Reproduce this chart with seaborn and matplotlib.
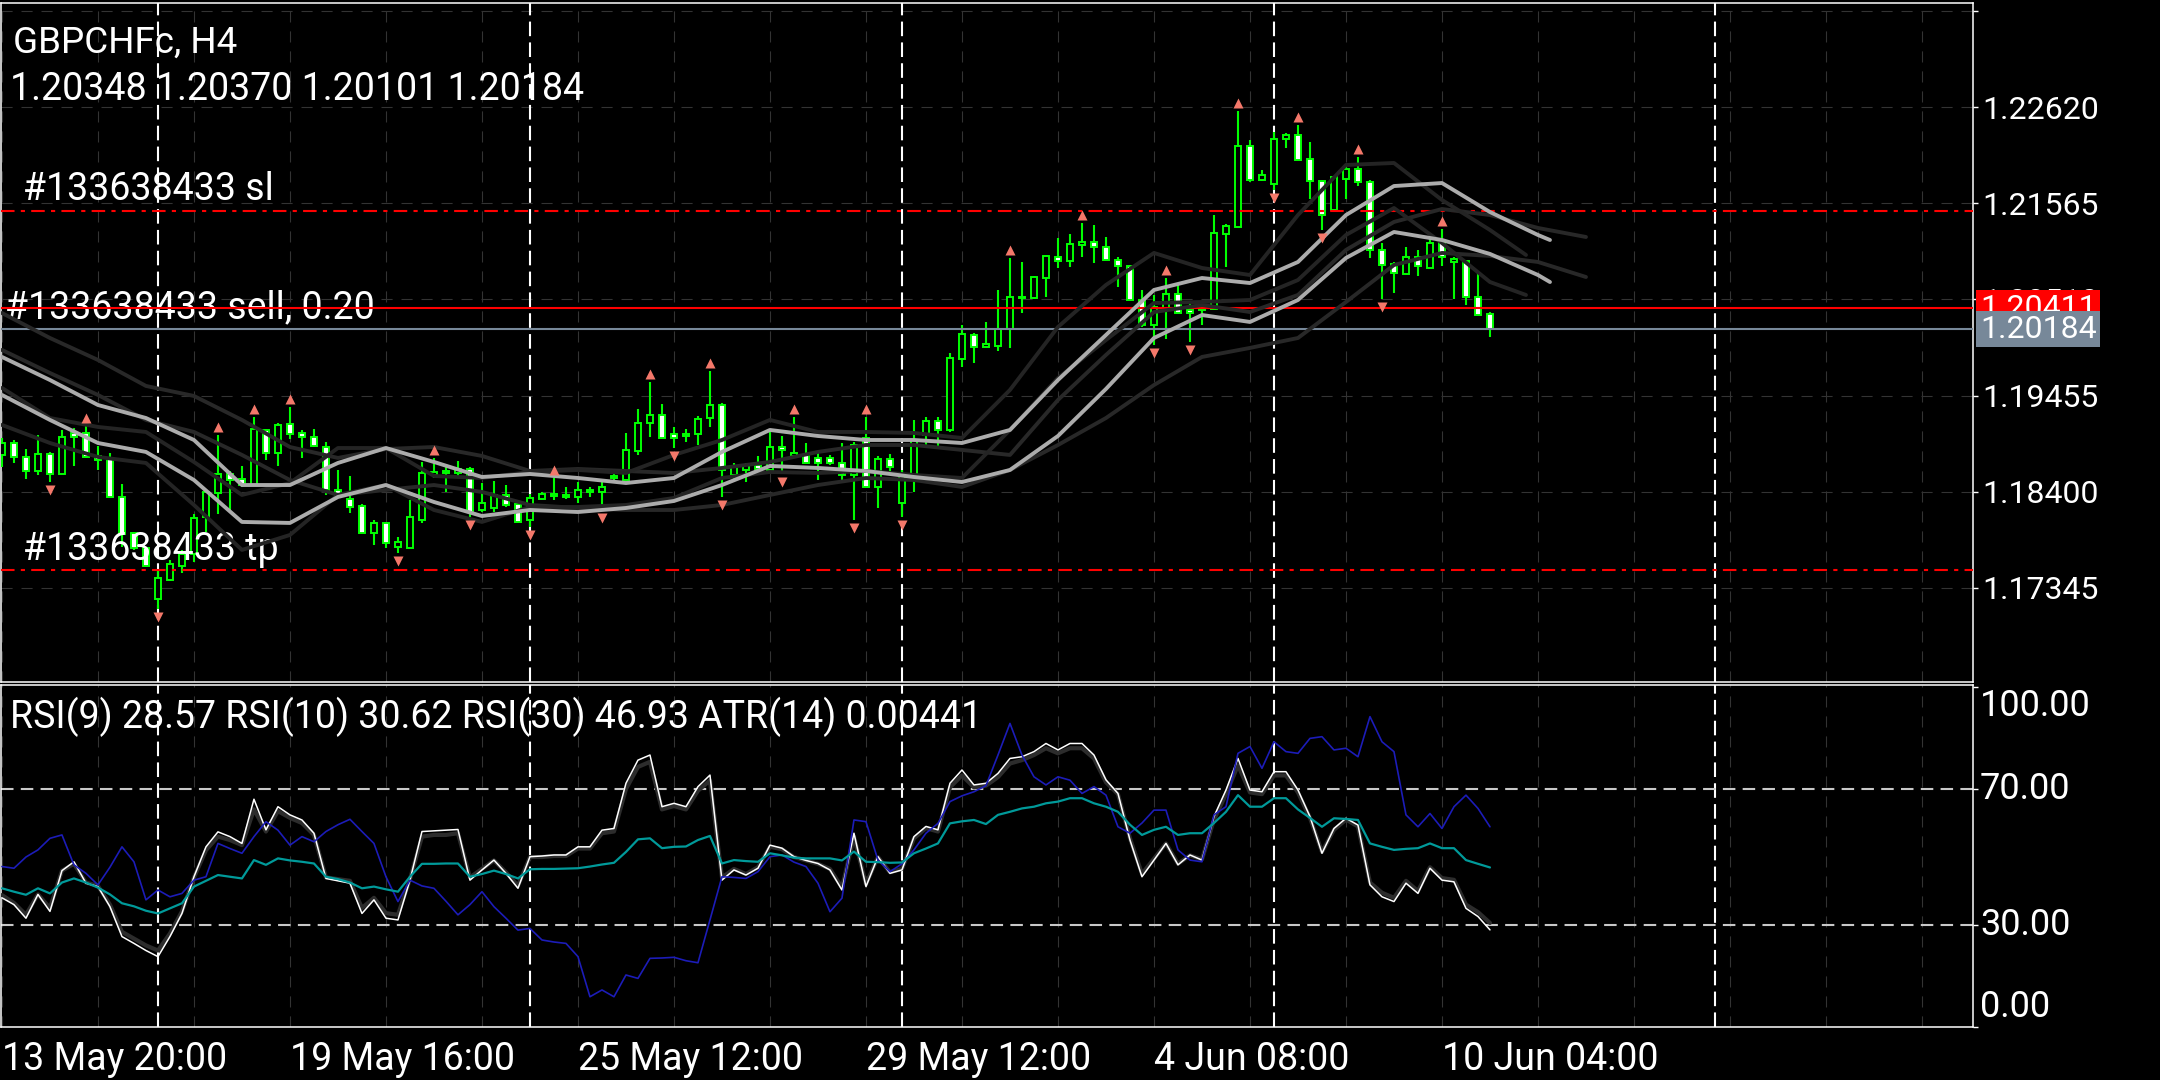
import numpy as np
import pandas as pd
import matplotlib
matplotlib.use("Agg")
import matplotlib.pyplot as plt
import matplotlib.transforms as mtrans
import seaborn as sns

# ---------------- data (GBPCHFc, H4) ----------------
open_ = [1.18803, 1.18934, 1.18781, 1.18627, 1.18814, 1.18594, 1.19044, 1.19044, 1.18792, 1.18759,
         1.18342, 1.17947, 1.17782, 1.17223, 1.17431, 1.17585, 1.17717, 1.18122, 1.18386, 1.18594,
         1.18539, 1.18473, 1.19077, 1.18825, 1.19143, 1.19044, 1.19000, 1.18890, 1.18419, 1.18320,
         1.18243, 1.17947, 1.18057, 1.17793, 1.17782, 1.18090, 1.18583, 1.18605, 1.18605, 1.18649,
         1.18199, 1.18221, 1.18364, 1.18265, 1.18090, 1.18320, 1.18353, 1.18342, 1.18342, 1.18397,
         1.18397, 1.18550, 1.18528, 1.18847, 1.19154, 1.19241, 1.19033, 1.19011, 1.19033, 1.19208,
         1.19351, 1.18583, 1.18638, 1.18693, 1.18638, 1.18890, 1.18792, 1.18803, 1.18770, 1.18770,
         1.18715, 1.18583, 1.18989, 1.18452, 1.18759, 1.18276, 1.18572, 1.19022, 1.19176, 1.19077,
         1.19856, 1.20119, 1.19988, 1.19999, 1.20185, 1.20525, 1.20525, 1.20744, 1.20975, 1.20931,
         1.21106, 1.21139, 1.21084, 1.20942, 1.20876, 1.20503, 1.20229, 1.20415, 1.20569, 1.20393,
         1.20393, 1.20404, 1.21227, 1.21304, 1.22192, 1.21819, 1.21775, 1.22269, 1.22313, 1.22050,
         1.21808, 1.21490, 1.21830, 1.21940, 1.21797, 1.21052, 1.20898, 1.20788, 1.20975, 1.20854,
         1.21128, 1.20920, 1.20931, 1.20536, 1.20348]
high_ = [1.18989, 1.18967, 1.18868, 1.19022, 1.18836, 1.19077, 1.19099, 1.19121, 1.18901, 1.18825,
         1.18484, 1.17958, 1.17782, 1.17541, 1.17651, 1.17761, 1.18155, 1.18419, 1.19022, 1.18627,
         1.18682, 1.19219, 1.19088, 1.19154, 1.19329, 1.19077, 1.19088, 1.18945, 1.18638, 1.18572,
         1.18265, 1.18090, 1.18068, 1.17903, 1.18309, 1.18726, 1.18770, 1.18671, 1.18737, 1.18671,
         1.18495, 1.18517, 1.18473, 1.18276, 1.18375, 1.18397, 1.18550, 1.18452, 1.18506, 1.18452,
         1.18528, 1.18616, 1.19044, 1.19307, 1.19603, 1.19362, 1.19110, 1.19088, 1.19230, 1.19724,
         1.19373, 1.18715, 1.18715, 1.18792, 1.19088, 1.19011, 1.19219, 1.18934, 1.18825, 1.18803,
         1.18934, 1.18945, 1.19219, 1.18792, 1.18814, 1.18638, 1.19187, 1.19219, 1.19219, 1.19922,
         1.20229, 1.20141, 1.20262, 1.20613, 1.20964, 1.20920, 1.20766, 1.20997, 1.21183, 1.21227,
         1.21348, 1.21326, 1.21194, 1.20975, 1.20887, 1.20613, 1.20558, 1.20744, 1.20689, 1.20492,
         1.20448, 1.21435, 1.21337, 1.22577, 1.22258, 1.21929, 1.22346, 1.22335, 1.22423, 1.22236,
         1.21819, 1.21863, 1.21984, 1.22072, 1.21819, 1.21128, 1.20920, 1.21084, 1.21052, 1.21183,
         1.21282, 1.20975, 1.20942, 1.20799, 1.20370]
low_ = [1.18671, 1.18715, 1.18539, 1.18583, 1.18506, 1.18594, 1.18682, 1.18770, 1.18638, 1.18342,
        1.17793, 1.17761, 1.17574, 1.17113, 1.17420, 1.17508, 1.17629, 1.17958, 1.18155, 1.18177,
        1.18452, 1.18473, 1.18748, 1.18682, 1.18978, 1.18770, 1.18890, 1.18364, 1.18342, 1.18166,
        1.17947, 1.17815, 1.17782, 1.17728, 1.17782, 1.18057, 1.18550, 1.18397, 1.18561, 1.18122,
        1.18177, 1.18177, 1.18232, 1.18068, 1.18013, 1.18309, 1.18309, 1.18320, 1.18276, 1.18342,
        1.18199, 1.18506, 1.18528, 1.18803, 1.19000, 1.18989, 1.18879, 1.18945, 1.18912, 1.19110,
        1.18342, 1.18506, 1.18506, 1.18638, 1.18616, 1.18594, 1.18781, 1.18715, 1.18528, 1.18693,
        1.18495, 1.18090, 1.18452, 1.18221, 1.18605, 1.18122, 1.18397, 1.18890, 1.18868, 1.19055,
        1.19768, 1.19812, 1.19988, 1.19944, 1.19977, 1.20360, 1.20514, 1.20536, 1.20854, 1.20865,
        1.20975, 1.20909, 1.20942, 1.20646, 1.20503, 1.20207, 1.20010, 1.20075, 1.20360, 1.20042,
        1.20229, 1.20404, 1.20865, 1.21304, 1.21797, 1.21808, 1.21710, 1.22170, 1.22039, 1.21611,
        1.21271, 1.21490, 1.21611, 1.21754, 1.20964, 1.20514, 1.20580, 1.20788, 1.20766, 1.20854,
        1.20876, 1.20514, 1.20448, 1.20338, 1.20101]
close_ = [1.18934, 1.18781, 1.18627, 1.18814, 1.18594, 1.19000, 1.19000, 1.18781, 1.18748, 1.18342,
          1.17936, 1.17782, 1.17585, 1.17453, 1.17607, 1.17717, 1.18111, 1.18397, 1.18594, 1.18528,
          1.18473, 1.19088, 1.18825, 1.19132, 1.19033, 1.19000, 1.18901, 1.18419, 1.18364, 1.18232,
          1.17947, 1.18057, 1.17837, 1.17848, 1.18122, 1.18605, 1.18616, 1.18627, 1.18649, 1.18177,
          1.18276, 1.18364, 1.18254, 1.18068, 1.18331, 1.18375, 1.18375, 1.18364, 1.18419, 1.18419,
          1.18452, 1.18572, 1.18858, 1.19154, 1.19241, 1.18989, 1.18989, 1.19033, 1.19197, 1.19351,
          1.18638, 1.18682, 1.18693, 1.18649, 1.18890, 1.18858, 1.18825, 1.18715, 1.18715, 1.18715,
          1.18583, 1.18912, 1.18452, 1.18759, 1.18671, 1.18572, 1.18967, 1.19176, 1.19077, 1.19867,
          1.20130, 1.19988, 1.20020, 1.20185, 1.20536, 1.20536, 1.20755, 1.20986, 1.20931, 1.21117,
          1.21139, 1.21084, 1.20942, 1.20876, 1.20503, 1.20229, 1.20426, 1.20569, 1.20360, 1.20360,
          1.20437, 1.21238, 1.21315, 1.22192, 1.21819, 1.21874, 1.22269, 1.22313, 1.22039, 1.21808,
          1.21435, 1.21852, 1.21940, 1.21797, 1.21052, 1.20887, 1.20799, 1.20975, 1.20876, 1.21128,
          1.20975, 1.20953, 1.20536, 1.20338, 1.20184]

fractal_up = [7, 18, 21, 24, 36, 46, 54, 59, 66, 72, 84, 90, 97, 103, 108, 113, 120]
fractal_down = [4, 13, 33, 39, 44, 50, 56, 60, 65, 71, 75, 96, 99, 106, 110, 115]

# shifted bands (bar index, price)
light_idx = [0, 4, 8, 12, 16, 20, 24, 28, 32, 36, 40, 44, 48, 52, 56, 60, 64, 68, 72, 76, 80,
             84, 88, 92, 96, 100, 104, 108, 112, 116, 120, 124, 128, 129]
light_up = [1.19878, 1.19625, 1.19351, 1.19208, 1.18967, 1.18473, 1.18473, 1.18715, 1.18879, 1.18726,
            1.18561, 1.18594, 1.18550, 1.18495, 1.18550, 1.18836, 1.19077, 1.19011, 1.18967, 1.18967,
            1.18934, 1.19077, 1.19625, 1.20119, 1.20613, 1.20744, 1.20689, 1.20920, 1.21435, 1.21753,
            1.21786, 1.21468, 1.21216, 1.21161]
light_dn = [1.19461, 1.19187, 1.18934, 1.18836, 1.18528, 1.18068, 1.18057, 1.18342, 1.18473, 1.18287,
            1.18133, 1.18199, 1.18177, 1.18221, 1.18298, 1.18473, 1.18682, 1.18660, 1.18627, 1.18561,
            1.18506, 1.18638, 1.19011, 1.19527, 1.20086, 1.20338, 1.20262, 1.20503, 1.20964, 1.21249,
            1.21161, 1.21008, 1.20777, 1.20700]
fast_idx = [0, 4, 8, 12, 16, 20, 24, 28, 32, 36, 40, 44, 48, 52, 56, 60, 64, 68, 72, 76, 80,
            84, 88, 92, 96, 100, 104, 108, 112, 116, 120, 124, 127]
fast_up = [1.19538, 1.19208, 1.19110, 1.19055, 1.18726, 1.18364, 1.18495, 1.18879, 1.18879, 1.18572,
           1.18550, 1.18616, 1.18638, 1.18605, 1.18803, 1.18967, 1.19187, 1.19055, 1.19055, 1.19044,
           1.18989, 1.19516, 1.20207, 1.20668, 1.21019, 1.20854, 1.20777, 1.21435, 1.21984, 1.22006,
           1.21600, 1.21271, 1.20997]
fast_dn = [1.19132, 1.18934, 1.18781, 1.18715, 1.18254, 1.17761, 1.17925, 1.18364, 1.18473, 1.18199,
           1.18068, 1.18232, 1.18232, 1.18254, 1.18331, 1.18550, 1.18616, 1.18605, 1.18627, 1.18583,
           1.18550, 1.19077, 1.19647, 1.20064, 1.20470, 1.20481, 1.20503, 1.20722, 1.21216, 1.21512,
           1.21128, 1.20700, 1.20558]
slow_idx = [0, 4, 8, 12, 16, 20, 24, 28, 32, 36, 40, 44, 48, 52, 56, 60, 64, 68, 72, 76, 80,
            84, 88, 92, 96, 100, 104, 108, 112, 116, 120, 124, 128, 132]
slow_up = [1.20360, 1.20086, 1.19845, 1.19560, 1.19450, 1.19187, 1.18890, 1.18770, 1.18868, 1.18890,
           1.18792, 1.18627, 1.18649, 1.18627, 1.18605, 1.18660, 1.18726, 1.18836, 1.18912, 1.18912,
           1.18858, 1.18803, 1.19406, 1.19900, 1.20371, 1.20448, 1.20371, 1.20558, 1.21052, 1.21359,
           1.21501, 1.21435, 1.21293, 1.21194]
slow_dn = [1.19955, 1.19702, 1.19461, 1.19187, 1.19055, 1.18803, 1.18528, 1.18364, 1.18419, 1.18473,
           1.18397, 1.18254, 1.18221, 1.18199, 1.18199, 1.18254, 1.18364, 1.18473, 1.18550, 1.18528,
           1.18452, 1.18638, 1.18912, 1.19208, 1.19570, 1.19878, 1.19977, 1.20086, 1.20481, 1.20887,
           1.21019, 1.20986, 1.20920, 1.20755]

order_id = "#133638433"
sell_price = 1.20411
sl_price = 1.21481
tp_price = 1.17541
bid_price = 1.20184

rsi9 = [38, 36, 32, 39, 34, 46, 48.6, 42.3, 41.3, 35.4, 26.6, 24.6, 22.5, 20.7, 26.6, 33.4, 44.2, 53, 57.4, 56,
        54, 67, 58, 64.8, 62.4, 60.9, 57, 43.7, 43, 42.3, 33.4, 37.4, 32, 31.5, 43.2, 57.5, 57.7, 57.9, 58.1, 43.2,
        46.2, 49.1, 45.2, 40.8, 50.1, 50.3, 50.6, 50.6, 53, 53, 57.9, 58.4, 71.7, 78.5, 80, 64.8, 65.8, 64.8, 70.7, 74.1,
        43.2, 46.2, 44.7, 46.7, 53.5, 52.6, 50.1, 49, 48.1, 46.2, 40.3, 57, 41.3, 50.1, 45.2, 46.2, 56, 59, 58, 71.7,
        75.6, 71.2, 71.7, 74.6, 79, 79.5, 81, 83.4, 81.5, 83.4, 83.4, 80, 72.7, 68.7, 55, 44.2, 49.1, 54, 47.7, 50.6,
        49.1, 61.9, 69.7, 79, 69.7, 69.2, 75.1, 75.1, 69.7, 61.9, 51.1, 58.4, 61.4, 59.4, 41.8, 38.3, 36.9, 42.3, 39.3, 46.7,
        43.2, 42.7, 34.9, 32.5, 28.57]
rsi10 = [38.8, 36.5, 33, 39, 35, 46, 48, 42.5, 41.5, 36, 28, 26, 24, 22.5, 27.5, 34, 44, 52, 56, 55,
         53.5, 64, 57.5, 63.5, 61.5, 60, 56.5, 44, 43.5, 43, 35, 38, 33.5, 33, 43.5, 56, 56.5, 56.5, 57, 44,
         46.5, 49, 45.5, 41.5, 50, 50, 50.3, 50.3, 52.5, 52.5, 57, 57.5, 70, 76.5, 78, 64, 65, 64, 69.5, 72.5,
         44, 46.5, 45, 47, 53, 52.3, 50, 49, 48, 46.5, 41, 56, 42, 50, 45.5, 46.5, 55.5, 58.5, 57.5, 70.5,
         74, 70.5, 71, 73.5, 77.5, 78.5, 80, 82, 80.5, 82, 82, 79, 72, 68.5, 55.5, 45, 49.5, 54, 48, 50.5,
         49.3, 61, 68.5, 77, 69, 68.5, 74, 74, 69, 61.5, 51.5, 58, 61, 59, 42.5, 39.5, 38, 43, 40, 47,
         43.8, 43.3, 36, 33.8, 30.62]
rsi30 = [40.8, 39.8, 38.9, 40.8, 39.3, 42.5, 43.7, 42.5, 41, 39, 36.4, 35.5, 34.2, 33.4, 34.9, 36.4, 41.3, 43, 44.7, 44.2,
         43.7, 49.1, 47.7, 49.6, 49, 48.6, 48.1, 44.2, 43.5, 42.5, 40.8, 41.3, 40.5, 39.8, 44.2, 48, 48, 48.1, 48.1, 44.2,
         45, 46, 45, 43.7, 46.4, 46.5, 46.5, 46.6, 46.7, 47.2, 47.8, 48.3, 51.5, 55.2, 55.5, 52.6, 53, 53.1, 55, 56.2,
         48.1, 49.1, 48.8, 48.6, 51.1, 50.5, 49.8, 49.6, 49.6, 49.6, 49, 51.6, 48.6, 48.5, 48.3, 48.4, 51.1, 52.5, 54, 59.9,
         60.5, 60.9, 59.7, 62.4, 63.3, 64.3, 64.8, 65.8, 66.3, 67.3, 67.3, 65.8, 64.8, 63.3, 59.5, 56.5, 58, 58.9, 56.5, 57,
         57, 60, 63.3, 68.2, 64.8, 64.8, 67.3, 67.3, 64, 61.5, 58.9, 61.4, 61.2, 60.9, 54, 53, 52.1, 52.4, 52.6, 54,
         52.6, 52.6, 49.1, 48, 46.93]
atr_line = [47.2, 46.7, 50, 52.1, 55.5, 56.5, 47.7, 45.2, 41.8, 47, 53, 48.6, 37.4, 40.3, 38.3, 39.3, 43.2, 44.2, 54, 52.5,
            51.1, 56, 60.4, 57.9, 53.5, 56, 54.5, 57.5, 59.5, 61.1, 57.5, 54, 44.2, 36.9, 43.2, 41.5, 40.8, 37, 33, 36,
            39.8, 35.4, 32, 28.5, 29, 25.6, 25, 24.6, 20.7, 8.9, 10.9, 8.9, 15.3, 14.3, 20.2, 20.3, 20.5, 19.5, 18.9, 31.5,
            44.2, 44, 43.7, 45.7, 50.1, 50.6, 48.5, 47.2, 42.3, 33.9, 37.9, 60.9, 60.4, 49.1, 45.7, 48, 52.1, 57, 59.9, 66.3,
            68, 69.2, 71, 80, 89.3, 80, 73.6, 71.2, 73.6, 72.6, 68.7, 70.7, 68.2, 58.9, 57, 60, 63.8, 63.8, 52.1, 49.1,
            48.6, 62.4, 64.8, 80.5, 82.5, 76.1, 83.9, 81, 80.5, 84.9, 85.4, 81.5, 82, 79.5, 91.3, 83.9, 81, 62.4, 58.9, 62.8,
            58.4, 64.8, 68.2, 64.3, 58.9]
rsi_header = "RSI(9) 28.57 RSI(10) 30.62 RSI(30) 46.93 ATR(14) 0.00441"

price_ticks = [1.23675, 1.22620, 1.21565, 1.20510, 1.19455, 1.18400, 1.17345]
rsi_ticks = [100, 70, 30, 0]
week_starts = [13, 44, 75, 106, 142.75]
date_bars = [0, 24, 48, 72, 96, 120]
date_labels = ["13 May 20:00", "19 May 16:00", "25 May 12:00", "29 May 12:00", "4 Jun 08:00", "10 Jun 04:00"]

# ---------------- style ----------------
GREEN = "#00ff00"
sns.set_style("dark", {"axes.facecolor": "black", "figure.facecolor": "black"})
plt.rcParams["font.family"] = ["Roboto", "DejaVu Sans"]

fig = plt.figure(figsize=(21.6, 10.8), dpi=100, facecolor="black")
ax = fig.add_axes([0.00046, 0.36852, 0.91296, 0.6287])
ax2 = fig.add_axes([0.00046, 0.04907, 0.91296, 0.31667])

for a in (ax, ax2):
    a.set_facecolor("black")
    a.set_xlim(-0.08, 164.25)
    for s in a.spines.values():
        s.set_color("white")
        s.set_linewidth(1.1)
    for w in week_starts:
        a.axvline(w, color="white", lw=1.5, ls=(0, (7, 3)), zorder=1)

grid_kw = dict(color="#333333", lw=0.8, ls=(0, (10, 8)))

# ---------------- main price panel ----------------
ax.set_ylim(1.16312, 1.23761)
bars = np.arange(len(open_))
o = np.array(open_)
c = np.array(close_)
bull = c >= o
ax.vlines(bars, low_, high_, color=GREEN, lw=1.5, zorder=3)
ax.bar(bars, np.abs(c - o), bottom=np.minimum(o, c), width=0.5,
       color=np.where(bull, "black", "white"), edgecolor=GREEN, linewidth=1.4, zorder=4)

for xs, ys, col in [(slow_idx, slow_up, "#282828"), (slow_idx, slow_dn, "#282828"),
                    (fast_idx, fast_up, "#242424"), (fast_idx, fast_dn, "#242424"),
                    (light_idx, light_up, "#acacac"), (light_idx, light_dn, "#acacac")]:
    sns.lineplot(x=xs, y=ys, ax=ax, color=col, lw=2.8, estimator=None, zorder=5)

hi = np.array(high_)
lo = np.array(low_)
up_tr = mtrans.offset_copy(ax.transData, fig=fig, x=0, y=8, units="dots")
dn_tr = mtrans.offset_copy(ax.transData, fig=fig, x=0, y=-8, units="dots")
ax.plot(fractal_up, hi[fractal_up], ls="none", marker="^", ms=6.5, color="#f4786a",
        mec="none", transform=up_tr, zorder=6)
ax.plot(fractal_down, lo[fractal_down], ls="none", marker="v", ms=6.5, color="#f4786a",
        mec="none", transform=dn_tr, zorder=6)

ax.axhline(sl_price, color="red", lw=1.5, ls=(0, (6.5, 3, 2, 3)), zorder=4.6)
ax.axhline(tp_price, color="red", lw=1.5, ls=(0, (6.5, 3, 2, 3)), zorder=4.6)
ax.axhline(bid_price, color="#778899", lw=1.5, zorder=4.6)
ax.axhline(sell_price, color="red", lw=1.5, zorder=4.7)

ax.yaxis.tick_right()
ax.set_yticks(price_ticks)
ax.set_yticklabels([""] + [f"{p:.5f}" for p in price_ticks[1:]])
ax.tick_params(axis="y", colors="white", length=3.6, width=1, pad=3, labelsize=23)
ax.set_xticks(np.arange(0, 165, 8))
ax.tick_params(axis="x", length=0, labelbottom=False)
ax.grid(True, **grid_kw)
ax.set_xlabel("")
ax.set_ylabel("")

ax_left = ax.transAxes
ax.text(0, 1, "GBPCHFc, H4", color="white", fontsize=26.5, va="baseline",
        transform=mtrans.offset_copy(ax_left, fig=fig, x=12, y=-50, units="dots"))
ax.text(0, 1, f"{open_[-1]:.5f} {high_[-1]:.5f} {low_[-1]:.5f} {close_[-1]:.5f}", color="white",
        fontsize=27, va="baseline",
        transform=mtrans.offset_copy(ax_left, fig=fig, x=9, y=-97, units="dots"))

row = mtrans.blended_transform_factory(ax.transAxes, ax.transData)
ax.text(0, sl_price, f"{order_id} sl", color="white", fontsize=27, va="baseline", zorder=4,
        transform=mtrans.offset_copy(row, fig=fig, x=22, y=11, units="dots"))
ax.text(0, sell_price, f"{order_id} sell, 0.20", color="white", fontsize=27, va="baseline", zorder=4,
        transform=mtrans.offset_copy(row, fig=fig, x=4, y=-10, units="dots"))
ax.text(0, tp_price, f"{order_id} tp", color="white", fontsize=27, va="baseline", zorder=4,
        transform=mtrans.offset_copy(row, fig=fig, x=22, y=10, units="dots"))

tag_tr = mtrans.offset_copy(row, fig=fig, x=7, y=0, units="dots")
ax.text(1, sell_price, f"{sell_price:.5f}", color="white", fontsize=23, ha="left", va="center",
        transform=tag_tr, zorder=10, clip_on=False,
        bbox=dict(boxstyle="square,pad=0.12", fc="#ff0000", ec="none"))
ax.text(1, bid_price, f"{bid_price:.5f}", color="white", fontsize=23, ha="left", va="center",
        transform=tag_tr, zorder=11, clip_on=False,
        bbox=dict(boxstyle="square,pad=0.12", fc="#778899", ec="none"))

# ---------------- RSI panel ----------------
ax2.set_ylim(0, 100.6)
rsi = pd.DataFrame({"bar": bars, "rsi9": rsi9, "rsi10": rsi10, "rsi30": rsi30, "atr": atr_line})
sns.lineplot(data=rsi, x="bar", y="rsi10", ax=ax2, color="#2c2c2c", lw=3.0, estimator=None, zorder=3)
sns.lineplot(data=rsi, x="bar", y="rsi9", ax=ax2, color="white", lw=1.1, estimator=None, zorder=4)
sns.lineplot(data=rsi, x="bar", y="atr", ax=ax2, color="#1c1cb8", lw=1.2, estimator=None, zorder=4)
sns.lineplot(data=rsi, x="bar", y="rsi30", ax=ax2, color="#009a9a", lw=1.6, estimator=None, zorder=5)
ax2.axhline(70, color="#c8c8c8", lw=1.5, ls=(0, (6, 3.5)), zorder=2)
ax2.axhline(30, color="#c8c8c8", lw=1.5, ls=(0, (6, 3.5)), zorder=2)

ax2.yaxis.tick_right()
ax2.set_yticks(rsi_ticks)
ax2.set_yticklabels([])
ax2.tick_params(axis="y", colors="white", length=3.6, width=1)
rrow = mtrans.blended_transform_factory(ax2.transAxes, ax2.transData)
for v in rsi_ticks:
    dy = -19 if v == 100 else (20 if v == 0 else 0)
    ax2.text(1, v, f"{v:.2f}", color="white", fontsize=26, ha="left", va="center", clip_on=False,
             transform=mtrans.offset_copy(rrow, fig=fig, x=7, y=dy, units="dots"))

ax2.set_xticks(date_bars)
ax2.set_xticklabels(date_labels)
for lab in ax2.get_xticklabels():
    lab.set_horizontalalignment("left")
ax2.set_xticks(np.arange(0, 165, 8), minor=True)
ax2.tick_params(axis="x", which="major", colors="white", length=3.6, width=1, pad=6.5, labelsize=27)
ax2.tick_params(axis="x", which="minor", length=0)
ax2.grid(False)
ax2.xaxis.grid(True, which="both", **grid_kw)
ax2.set_xlabel("")
ax2.set_ylabel("")
ax2.text(0, 1, rsi_header, color="white", fontsize=27, va="baseline",
         transform=mtrans.offset_copy(ax2.transAxes, fig=fig, x=9, y=-43, units="dots"))

fig.savefig("out.png", dpi=100, facecolor="black")
